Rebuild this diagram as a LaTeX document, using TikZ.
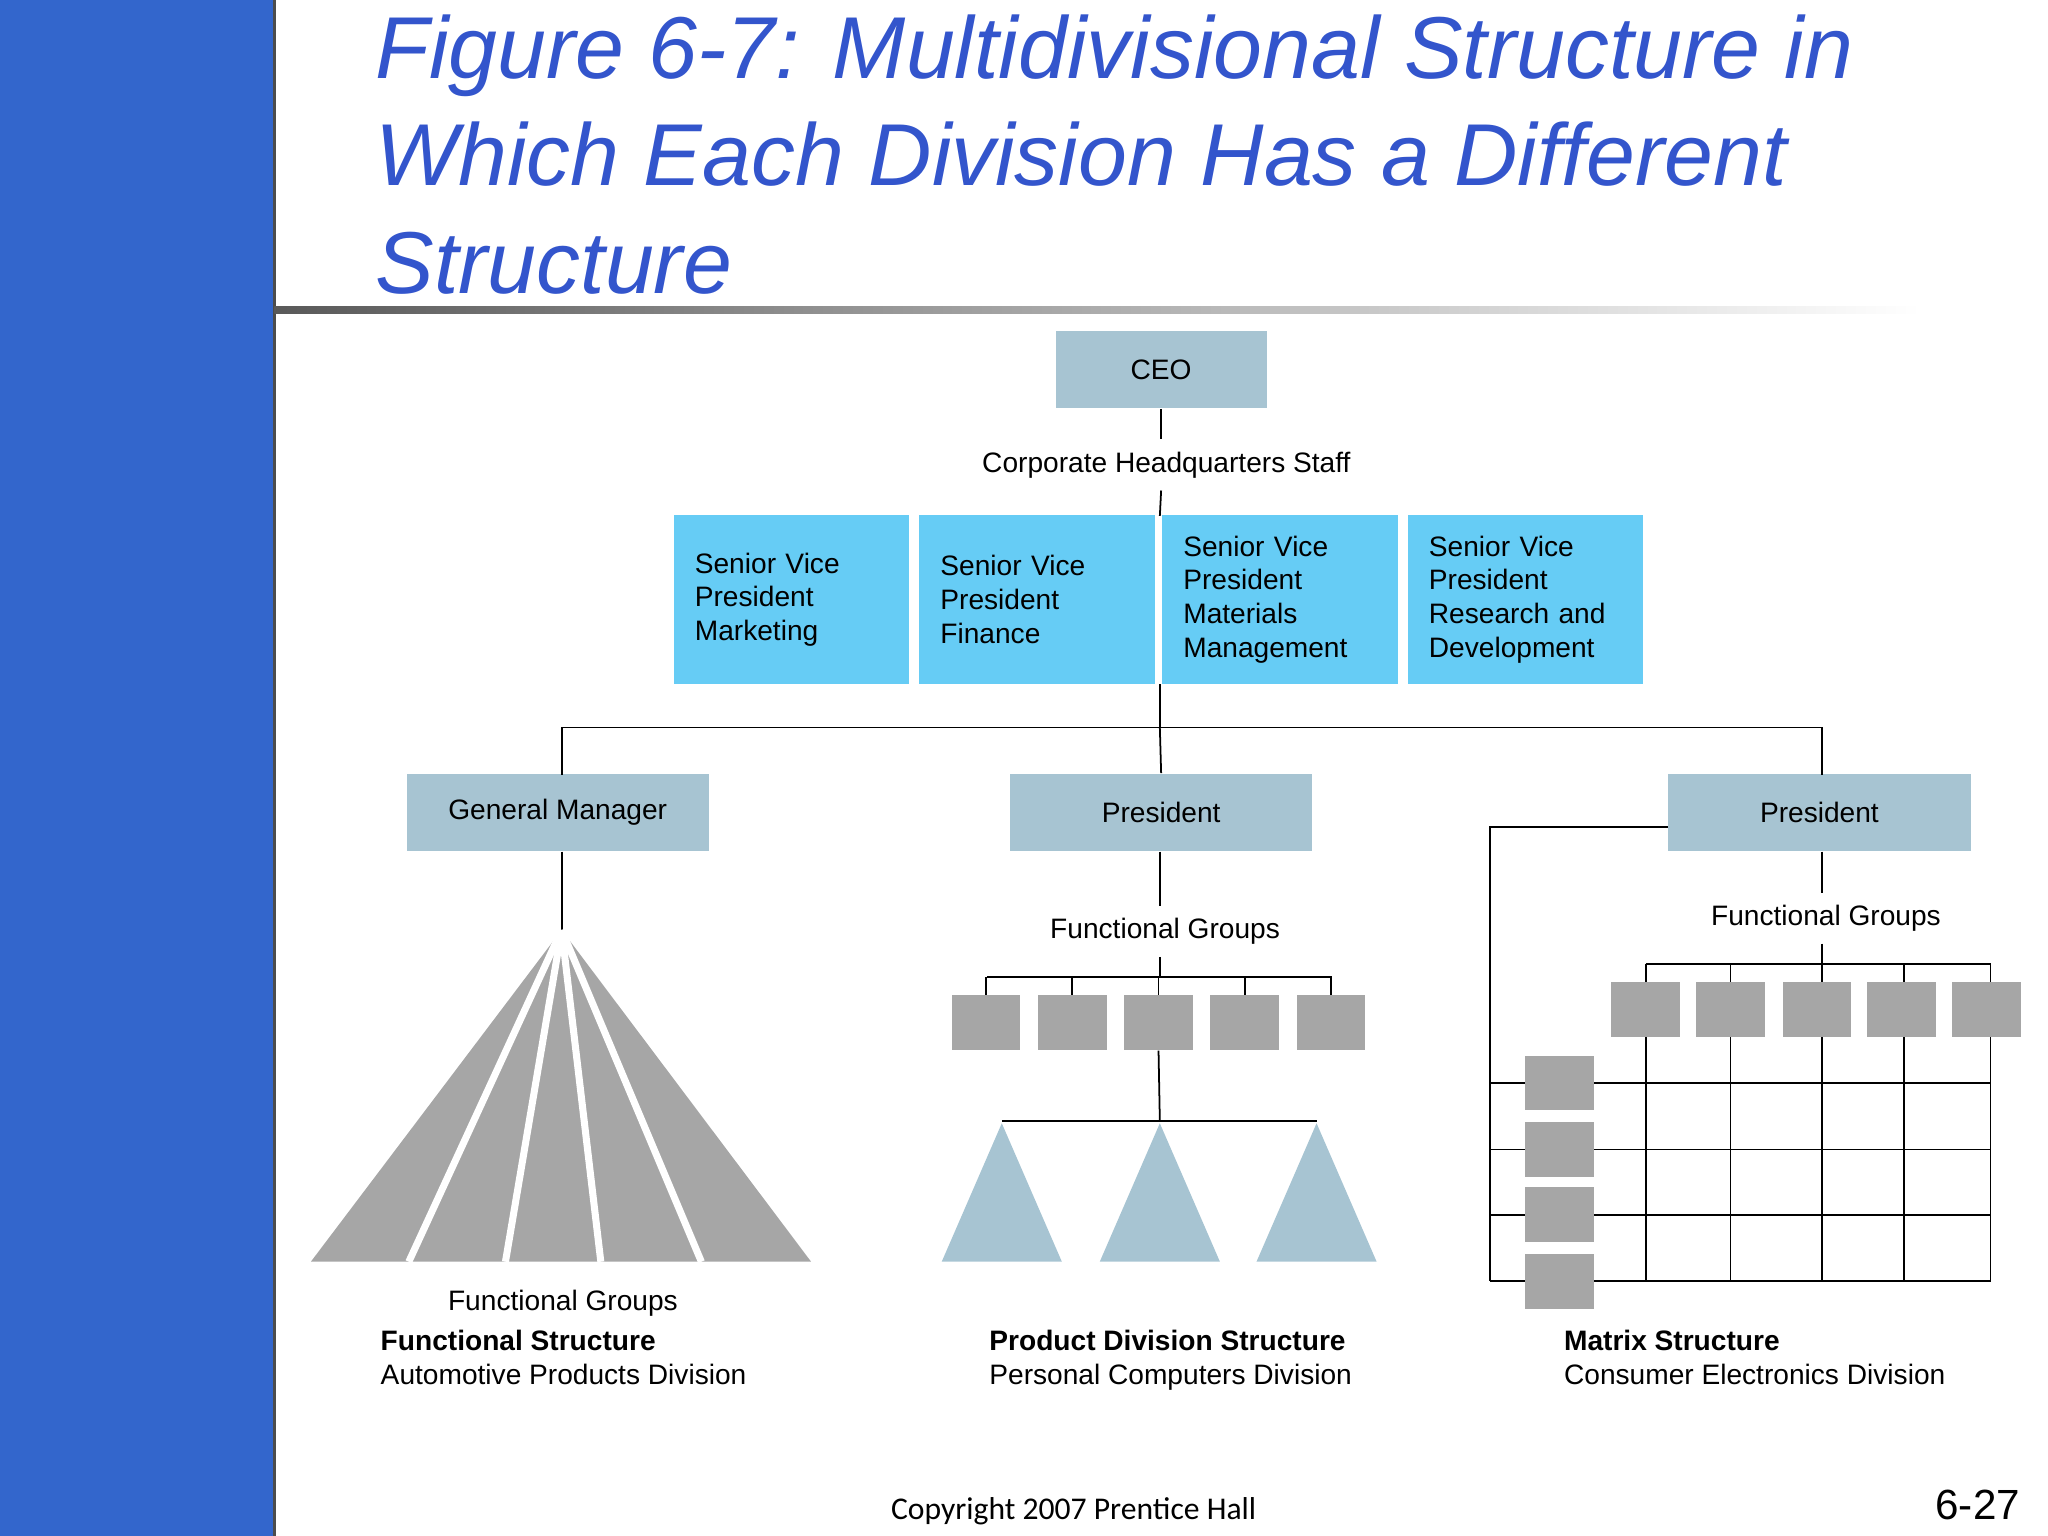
\documentclass[tikz,border=0pt]{standalone}
\usepackage{fontspec}
\setmainfont{Liberation Sans}
\newfontfamily\copyfont{Carlito}
\usetikzlibrary{positioning}
\definecolor{barblue}{HTML}{3366CC}
\definecolor{titleblue}{HTML}{3355CC}
\definecolor{boxgray}{HTML}{A7C4D2}
\definecolor{svpblue}{HTML}{66CCF5}
\definecolor{fangray}{HTML}{A6A6A6}
\tikzset{
  txt/.style={font=\fontsize{8}{9.6}\selectfont},
  grayhead/.style={fill=boxgray, draw=none, txt, minimum height=22pt, inner sep=0pt},
  svp/.style={fill=svpblue, draw=none, txt, minimum width=67pt, minimum height=48pt,
    text width=55pt, align=left, inner sep=0pt},
  unit/.style={fill=fangray, draw=none, minimum width=19.5pt, minimum height=15.5pt, inner sep=0pt},
  conn/.style={draw=black, line width=0.5pt},
}
\begin{document}
\begin{tikzpicture}[x=0.013061cm, y=-0.013061cm]
    \useasboundingbox (0,0) rectangle (1568,1176);

    % Side bar and title
    \fill[barblue] (0,0) rectangle (210,1176);
    \draw[black!70, line width=1pt] (210,0) -- (210,1176);
    \node[anchor=base west, text=titleblue, font=\fontsize{25}{30}\selectfont\itshape, align=left]
        at (278,60) {Figure 6-7: Multidivisional Structure in};
    \node[anchor=base west, text=titleblue, font=\fontsize{25}{30}\selectfont\itshape]
        at (278,142) {Which Each Division Has a Different};
    \node[anchor=base west, text=titleblue, font=\fontsize{25}{30}\selectfont\itshape]
        at (278,225) {Structure};
    \shade[left color=black!65, right color=white] (210,235) rectangle (1470,240);

    % Top of chart
    \node[grayhead, minimum width=60pt] (ceo) at (889,283) {CEO};
    \node[txt] (hq) at (893,356) {Corporate Headquarters Staff};
    \node[svp] (svpA) at (606,459) {Senior Vice\\President\\Marketing};
    \node[svp] (svpB) at (794,459) {Senior Vice\\President\\Finance};
    \node[svp] (svpC) at (980,459) {Senior Vice\\President\\Materials\\Management};
    \node[svp] (svpD) at (1168,459) {Senior Vice\\President\\Research and\\Development};
    \draw[conn] (ceo.south) -- (hq.north -| ceo.south);
    \draw[conn] (hq.south -| ceo.south) -- (888,395);

    % Division heads
    \node[grayhead, minimum width=86pt] (gm) at (427,622) {General Manager};
    \node[grayhead, minimum width=86pt] (presB) at (889,622) {President};
    \node[grayhead, minimum width=86pt] (presC) at (1393,622) {President};
    \coordinate (split) at (888,557);
    \draw[conn] (888,524) -- (split);
    \draw[conn] (430,593) |- (split) -| (1395,593);
    \draw[conn] (split) -- (presB.north);

    % Functional structure
    \coordinate (apex) at (430,712);
    \draw[conn] (430,652) -- (apex);
    \fill[fangray] (apex) -- (621,966) -- (238,966) -- cycle;
    \foreach \bx in {313,387,460,537}
        \draw[white, line width=2pt] (apex) -- (\bx,966);
    \node[txt] (fgA) at (431,998) {Functional Groups};

    % Product division structure
    \node[txt] (fgB) at (892,713) {Functional Groups};
    \draw[conn] (888,652) -- (fgB.north -| 888,0);
    \draw[conn] (fgB.south -| 888,0) -- (888,748);
    \draw[conn] (756,748) -- (1020,748);
    \foreach \i/\ux in {1/755,2/821,3/887,4/953,5/1019} {
        \draw[conn] (\ux,748) -- (\ux,762);
        \node[unit] (pu\i) at (\ux,783) {};
    }
    \draw[conn] (pu3.south) -- (888,858);
    \draw[conn] (767,858) -- (1008,858);
    \foreach \tx in {767,888,1008}
        \fill[boxgray] (\tx,860) -- (\tx+46,966) -- (\tx-46,966) -- cycle;

    % Matrix structure
    \node[txt] (fgC) at (1398,703) {Functional Groups};
    \draw[conn] (1395,652) -- (fgC.north -| 1395,0);
    \draw[conn] (fgC.south -| 1395,0) -- (1395,738);
    \draw[conn] (presC.west |- 0,633) -| (1141,981);
    \draw[conn] (1260,738) -- (1524,738);
    \foreach \gx in {1260,1325,1395,1458,1524}
        \draw[conn] (\gx,738) -- (\gx,981);
    \foreach \gy in {829,880,930,981}
        \draw[conn] (1141,\gy) -- (1524,\gy);
    \foreach \i/\ux in {1/1260,2/1325,3/1391,4/1456,5/1521}
        \node[unit] (mu\i) at (\ux,773) {};
    \foreach \i/\uy in {1/829,2/880,3/930,4/981}
        \node[unit] (mv\i) at (1194,\uy) {};

    % Captions
    \node[txt, anchor=base west, align=left] (capA) at (282,1060)
        {\textbf{Functional Structure}\\Automotive Products Division};
    \node[txt, anchor=base west, align=left] (capB) at (748,1060)
        {\textbf{Product Division Structure}\\Personal Computers Division};
    \node[txt, anchor=base west, align=left] (capC) at (1188,1060)
        {\textbf{Matrix Structure}\\Consumer Electronics Division};

    % Footer
    \node[font=\copyfont\fontsize{9}{11}\selectfont] (copy) at (822,1157) {Copyright 2007 Prentice Hall};
    \node[font=\fontsize{12}{14}\selectfont, anchor=east] (pg) at (1556,1152) {6-27};
\end{tikzpicture}
\end{document}
